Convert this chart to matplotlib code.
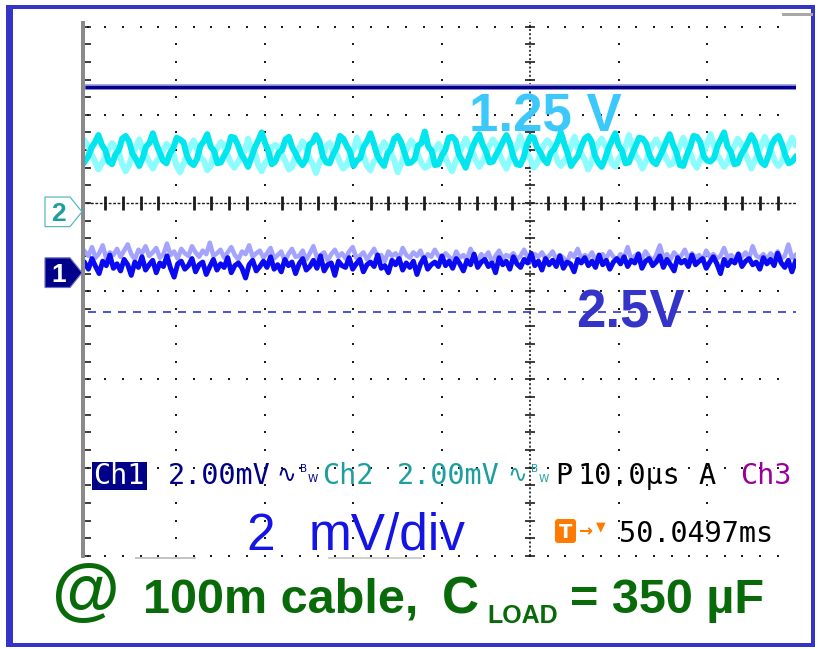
import numpy as np
import matplotlib
matplotlib.use("Agg")
import matplotlib.pyplot as plt
from matplotlib.patches import Rectangle, Polygon, FancyBboxPatch
from matplotlib.transforms import blended_transform_factory

# ---------------- data (screen divisions; traces in 1/100 division) ----------------
trace_x_start = -5.03
trace_x_end = 3.0

ch2_bright = [
    47, 53, 63, 69, 77, 66, 60, 47, 44, 55, 60, 73, 76, 70, 56, 50,
    42, 51, 64, 68, 79, 67, 57, 48, 45, 56, 62, 74, 72, 69, 54, 46,
    43, 50, 65, 70, 78, 64, 59, 45, 46, 54, 61, 75, 74, 66, 55, 49,
    41, 52, 63, 71, 80, 68, 58, 44, 47, 57, 60, 72, 75, 63, 56, 48,
    43, 49, 66, 69, 77, 70, 53, 46, 45, 55, 62, 76, 73, 65, 58, 42,
    48, 51, 64, 70, 79, 67, 54, 47, 42, 56, 61, 73, 76, 69, 57, 45,
    46, 50, 65, 68, 81, 64, 59, 43, 44, 54, 60, 74, 75, 71, 55, 48,
    40, 52, 63, 72, 78, 66, 58, 46, 47, 55, 62, 70, 77, 68, 53, 44,
    43, 51, 66, 75, 74, 63, 57, 49, 45, 57, 61, 69, 80, 67, 56, 42,
    48, 53, 64, 73, 76, 70, 54, 46, 41, 50, 62, 71, 79, 65, 59, 45,
    46, 56, 65, 74, 73, 68, 55, 47, 44, 52, 60, 70, 78, 66, 57, 43,
    42, 54, 63, 76, 75, 69, 53, 48, 47, 51, 64, 72, 80, 64, 58, 44,
    45, 55, 61, 69, 77, 70, 56, 46, 43, 53, 66, 73, 76, 67, 54, 45,
    47, 52]

ch2_persist = [
    70, 64, 55, 47, 38, 45, 52, 61, 68, 62, 57, 44, 36, 43, 55, 63,
    72, 60, 53, 46, 39, 47, 51, 60, 67, 63, 56, 42, 35, 44, 54, 64,
    71, 61, 52, 48, 37, 42, 56, 62, 69, 65, 54, 45, 40, 46, 53, 59,
    73, 60, 57, 43, 36, 45, 50, 63, 66, 62, 55, 47, 38, 41, 55, 61,
    70, 64, 51, 44, 34, 46, 52, 65, 68, 59, 56, 46, 39, 43, 54, 60,
    74, 63, 53, 42, 37, 47, 51, 62, 69, 61, 57, 48, 35, 44, 56, 63,
    71, 65, 54, 45, 40, 42, 53, 61, 67, 60, 52, 43, 36, 46, 55, 64,
    73, 64, 58, 48, 41, 47, 56, 65, 72, 66, 55, 46, 39, 49, 58, 63,
    76, 63, 57, 50, 40, 45, 57, 66, 71, 67, 59, 47, 42, 48, 54, 65,
    75, 62, 56, 49, 38, 46, 59, 67, 73, 65, 58, 45, 41, 50, 55, 64,
    77, 64, 54, 48, 39, 47, 58, 66, 72, 66, 59, 50, 43, 45, 56, 65,
    74, 63, 57, 46, 40, 49, 57, 67, 78, 65, 55, 48, 41, 46, 59, 64,
    73, 67, 58, 49, 39, 48, 56, 66, 75, 64, 57, 47, 42, 47, 58, 65,
    74, 66]

ch1_bright = [
    -68, -75, -63, -72, -80, -66, -71, -59, -74, -69,
    -77, -64, -70, -82, -67, -73, -61, -76, -70, -65,
    -79, -68, -72, -60, -74, -84, -69, -66, -75, -71,
    -63, -78, -70, -67, -81, -72, -64, -76, -69, -73,
    -62, -79, -71, -68, -74, -85, -70, -65, -77, -72,
    -66, -73, -61, -75, -70, -78, -64, -71, -67, -80,
    -69, -63, -76, -72, -65, -74, -60, -77, -70, -68,
    -82, -66, -71, -73, -62, -75, -69, -64, -78, -70,
    -67, -72, -59, -74, -71, -79, -65, -70, -63, -76,
    -68, -73, -66, -81, -69, -62, -75, -70, -67, -72,
    -60, -71, -66, -74, -63, -69, -77, -65, -70, -58,
    -73, -67, -64, -72, -68, -79, -62, -70, -66, -75,
    -61, -69, -73, -64, -68, -57, -71, -66, -76, -63,
    -70, -65, -72, -60, -74, -67, -69, -78, -64, -68,
    -62, -71, -66, -73, -59, -70, -65, -75, -67, -63,
    -69, -61, -72, -65, -68, -58, -74, -66, -63, -71,
    -67, -60, -73, -64, -70, -77, -62, -68, -65, -72,
    -59, -70, -66, -63, -74, -67, -61, -69, -80, -64,
    -71, -65, -68, -58, -72, -66, -63, -70, -67, -75,
    -62, -69, -64, -71, -57, -68, -73, -65, -78, -66]

ch1_persist = [
    -55, -60, -50, -62, -57, -48, -63, -56, -59, -52,
    -61, -54, -47, -58, -64, -53, -57, -49, -60, -56,
    -51, -62, -58, -46, -59, -55, -63, -52, -57, -60,
    -49, -56, -61, -54, -58, -45, -60, -57, -53, -62,
    -56, -50, -59, -64, -55, -58, -48, -61, -57, -54,
    -62, -57, -51, -63, -59, -55, -66, -58, -52, -61,
    -60, -54, -64, -57, -49, -62, -59, -56, -65, -58,
    -53, -61, -57, -63, -55, -50, -62, -60, -56, -64,
    -58, -52, -61, -59, -66, -55, -60, -57, -63, -51,
    -59, -62, -56, -60, -54, -65, -58, -61, -53, -60,
    -63, -57, -61, -66, -55, -62, -59, -64, -52, -61,
    -65, -58, -62, -56, -67, -60, -54, -63, -59, -61,
    -57, -64, -60, -53, -62, -66, -58, -61, -56, -63,
    -60, -55, -64, -59, -62, -68, -57, -61, -52, -63,
    -59, -62, -56, -65, -60, -58, -63, -55, -61, -64,
    -58, -62, -50, -64, -60, -57, -63, -55, -61, -66,
    -59, -48, -62, -58, -64, -56, -61, -60, -53, -63,
    -57, -62, -59, -65, -54, -61, -58, -63, -60, -51,
    -62, -59, -64, -57, -61, -56, -63, -49, -60, -62,
    -58, -64, -57, -61, -55, -63, -60, -47, -62, -59]

ref_solid_div = 1.32      # 1.25 V reference line
ref_dashed_div = -1.24    # 2.5 V reference line
ch2_ground_div = -0.10
ch1_ground_div = -0.79
grid_cols = [-4, -3, -2, -1, 1, 2]
grid_rows = [2, 1, -1, -2, -3, -4]

# ---------------- colours ----------------
BORDER = "#3434C8"
NAVY = "#000088"
TEAL = "#1E9E9E"
CYAN = "#00E6EE"
CYAN_L = "#8CFCFF"
BLUE = "#0A0AF2"
BLUE_L = "#A4A4FF"
GREEN = "#086A08"
ORANGE = "#FF7A00"
DOT = "#1c1c1c"

W, H = 818, 649
fig = plt.figure(figsize=(W / 100, H / 100), dpi=100)
fig.patch.set_facecolor("white")

# screen axes in division units
L_px, R_px, T_px, B_px = 81, 796, 22, 560
ax = fig.add_axes([L_px / W, 1 - B_px / H, (R_px - L_px) / W, (B_px - T_px) / H])
ax.set_xlim((L_px - 530) / 88.5, (R_px - 530) / 88.5)
ax.set_ylim((203 - B_px) / 88.2, (203 - T_px) / 88.2)
ax.axis("off")
ax.patch.set_alpha(0)

# overlay axes in pixel units for decorations / text
ov = fig.add_axes([0, 0, 1, 1], zorder=5)
ov.set_xlim(0, W)
ov.set_ylim(H, 0)
ov.axis("off")
ov.patch.set_alpha(0)
PT = 72 / 100  # points per pixel

# ---- graticule ----
minor_y = np.round(np.arange(-4, 2.001, 0.2), 3)
row_x = np.round(np.arange(-5, 2.81, 0.2), 3)
for gx in grid_cols:
    ax.plot(np.full(minor_y.size, gx), minor_y, marker="s", ms=1.6, mew=0,
            color=DOT, ls="none", zorder=1)
for gy in grid_rows:
    ax.plot(row_x, np.full(row_x.size, gy), marker="s", ms=1.6, mew=0,
            color=DOT, ls="none", zorder=1)
# centre column: fine dotted line with ticks
ax.plot([0, 0], [-4, 2.05], color=DOT, lw=1.2, ls=(0, (1.2, 1.3)), zorder=1)
ax.hlines(minor_y, -0.06, 0.06, colors=DOT, lw=1.2, zorder=1)
# centre row: fine dashed line with ticks
ax.plot([-5.02, 3.0], [0, 0], color=DOT, lw=1.0, ls=(0, (2.0, 1.2)), zorder=1)
tick_x = np.array([v for v in row_x if abs(v - round(v)) > 1e-6])
ax.vlines(tick_x, -0.075, 0.075, colors=DOT, lw=2.0, zorder=1)
# left-edge ticks
ax.hlines(minor_y, -5.03, -4.96, colors=DOT, lw=1.2, zorder=1)
ov.plot([82.5, 82.5], [21, 558], color="#8a8a8a", lw=4 * PT, solid_capstyle="butt", zorder=1)

# ---- reference lines ----
ax.plot([-5.03, 3.0], [ref_solid_div, ref_solid_div], color="#A8A8E8", lw=6 * PT, zorder=2,
        solid_capstyle="butt")
ax.plot([-5.03, 3.0], [ref_solid_div, ref_solid_div], color=NAVY, lw=3.4 * PT, zorder=3,
        solid_capstyle="butt")
ax.plot([-5.0, 3.0], [ref_dashed_div, ref_dashed_div], color="#2A2ACC", lw=1.6 * PT,
        ls=(0, (8 / 1.6, 7 / 1.6)), zorder=2)

# ---- traces ----
def tx(vals):
    return np.linspace(trace_x_start, trace_x_end, len(vals))

ax.plot(tx(ch2_persist), np.array(ch2_persist) / 100, color=CYAN_L, lw=6 * PT, zorder=4)
ax.plot(tx(ch2_bright), np.array(ch2_bright) / 100, color=CYAN, lw=6 * PT, zorder=5)
ax.plot(tx(ch1_persist), np.array(ch1_persist) / 100, color=BLUE_L, lw=4.5 * PT, zorder=4)
ax.plot(tx(ch1_bright), np.array(ch1_bright) / 100, color=BLUE, lw=5 * PT, zorder=5)

# ---- ground markers (x in pixels, y in divisions) ----
bt = blended_transform_factory(ov.transData, ax.transData)
hh = 0.168
for gdiv, face, edge, txtc, lab in [(ch2_ground_div, "white", "#4FB8B8", TEAL, "2"),
                                    (ch1_ground_div, NAVY, "#6C6CC8", "white", "1")]:
    poly = Polygon([(45, gdiv + hh), (70, gdiv + hh), (82, gdiv), (70, gdiv - hh), (45, gdiv - hh)],
                   closed=True, facecolor=face, edgecolor=edge, lw=1.2 * PT,
                   transform=bt, clip_on=False, zorder=6)
    fig.add_artist(poly)
    fig.text(58.5, gdiv, lab, transform=bt, ha="center", va="center_baseline",
             fontsize=19, fontweight="bold", color=txtc, zorder=7, family="Liberation Sans")

# ---- outer border & small artefacts ----
for (bx, by, bw, bh) in [(6, 5, 807, 4), (6, 5, 7, 642), (6, 643, 809, 4), (811, 5, 4, 642)]:
    ov.add_patch(Rectangle((bx, by), bw, bh, facecolor=BORDER, edgecolor="none", zorder=0))
ov.plot([783, 811], [14, 14], color="#A8A8A8", lw=3 * PT, zorder=1)
ov.plot([136, 195], [558, 558], color="#C4C4C4", lw=2 * PT, zorder=1)
ov.plot([329, 421], [558, 558], color="#D0D0D0", lw=2 * PT, zorder=1)

# ---- big annotations ----
ov.text(469, 131, "1.25 V", fontsize=38, fontweight="bold", family="Liberation Sans",
        color="#3CC8FA", ha="left", va="baseline", zorder=8)
ov.text(576, 327, "2.5V", fontsize=38, fontweight="bold", family="Liberation Sans",
        color="#3434C8", ha="left", va="baseline", zorder=8)

# ---- scope status line ----
MONO = "DejaVu Sans Mono"
def scope_text(x0, base, s, color, size=20.5):
    ov.text(x0, base, s, fontsize=size, color=color, ha="left", va="baseline",
            family=MONO, zorder=8)

def bw_symbol(xw, color):
    ov.text(xw, 475, "\u223f", fontsize=17, color=color, ha="center", va="center",
            family="DejaVu Sans", zorder=8)
    ov.text(xw + 18, 469, "B", fontsize=7.5, color=color, ha="center", va="center", zorder=8)
    ov.text(xw + 27, 479, "W", fontsize=7.5, color=color, ha="center", va="center", zorder=8)

ov.add_patch(Rectangle((92, 462), 55, 28, facecolor=NAVY, edgecolor="none", zorder=7))
scope_text(93, 484, "Ch1", "white")
scope_text(168, 484, "2.00mV", NAVY)
bw_symbol(286, NAVY)
scope_text(322, 484, "Ch2", TEAL)
scope_text(397, 484, "2.00mV", TEAL)
bw_symbol(517, TEAL)
scope_text(555, 484, "P", "black")
scope_text(578, 484, "10.0\u00b5s", "black")
scope_text(698, 484, "A", "black")
scope_text(740, 484, "Ch3", "#990099")

# second row
ov.text(246, 550, "2", fontsize=37, color="#1414E6", family="Liberation Sans",
        ha="left", va="baseline", zorder=8)
ov.text(309, 550, "mV/div", fontsize=37, color="#1414E6", family="Liberation Sans",
        ha="left", va="baseline", zorder=8)
ov.add_patch(FancyBboxPatch((555, 519), 21, 24, boxstyle="round,pad=0,rounding_size=3",
                            facecolor=ORANGE, edgecolor="none", zorder=7))
ov.text(565.5, 532, "T", fontsize=14, fontweight="bold", color="white", ha="center",
        va="center", zorder=8)
ov.text(585, 531, "\u2192", fontsize=12, fontweight="bold", color=ORANGE, ha="center",
        va="center", zorder=8)
ov.text(601, 527, "\u25bc", fontsize=9, color=ORANGE, ha="center", va="center", zorder=8)
scope_text(619, 542, "50.0497ms", "black")

# ---- bottom caption ----
ov.text(86, 594, "@", fontsize=50, fontweight="bold", color=GREEN, family="Liberation Sans",
        ha="center", va="center", zorder=8)
ov.text(143, 613, "100m cable,", fontsize=35, fontweight="bold", color=GREEN,
        family="Liberation Sans", ha="left", va="baseline", zorder=8)
ov.text(442, 613, "C", fontsize=37, fontweight="bold", color=GREEN,
        family="Liberation Sans", ha="left", va="baseline", zorder=8)
ov.text(487, 623, "LOAD", fontsize=18, fontweight="bold", color=GREEN,
        family="Liberation Sans", ha="left", va="baseline", zorder=8)
ov.text(570, 613, "= 350 \u00b5F", fontsize=35, fontweight="bold", color=GREEN,
        family="Liberation Sans", ha="left", va="baseline", zorder=8)

fig.savefig("out.png", dpi=100, facecolor="white")
